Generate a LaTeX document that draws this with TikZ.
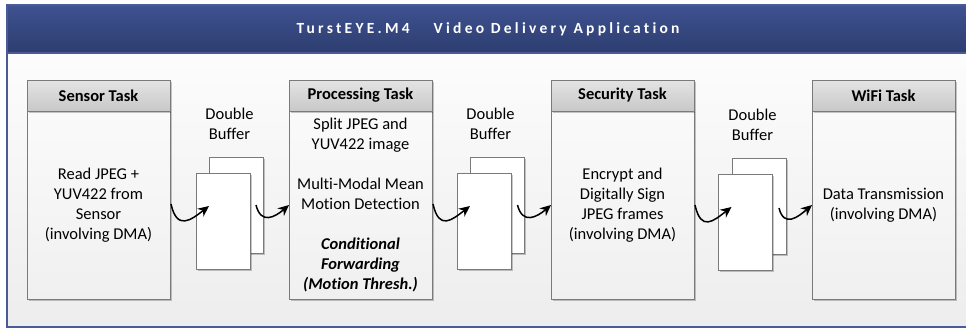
\documentclass[tikz,border=0pt]{standalone}
\usepackage{fontspec}
\setmainfont[Ligatures=NoCommon]{Carlito}
\usetikzlibrary{shadows,calc,arrows.meta}
\definecolor{hdrtop}{HTML}{3F5291}
\definecolor{hdrbot}{HTML}{2D3D6F}
\definecolor{framec}{HTML}{4B5B98}
\definecolor{boxline}{HTML}{7A7A7A}
\definecolor{taskhtop}{HTML}{E4E4E4}
\definecolor{taskhbot}{HTML}{C8C8C8}
\definecolor{bodytop}{HTML}{FAFAFA}
\definecolor{bodybot}{HTML}{F0F0F0}
\definecolor{bgtop}{HTML}{FFFFFF}
\definecolor{bgbot}{HTML}{EDEDED}
\begin{document}
\begin{tikzpicture}[x=1pt,y=-1pt,
  bodyfont/.style={font=\fontsize{16.5}{20}\selectfont},
  shad/.style={drop shadow={shadow xshift=1.5pt,shadow yshift=-1.5pt,fill=black,opacity=0.22}},
  taskhead/.style={draw=boxline,line width=0.8pt,top color=taskhtop,bottom color=taskhbot,
    minimum width=143pt,minimum height=31pt,inner sep=0pt,outer sep=0pt,anchor=north west,
    font=\bfseries\fontsize{16.5}{20}\selectfont,shad},
  taskbody/.style={draw=boxline,line width=0.8pt,top color=bodytop,bottom color=bodybot,
    minimum width=143pt,minimum height=188pt,inner sep=0pt,outer sep=0pt,anchor=north west,
    align=center,bodyfont,shad},
  bufrect/.style={draw=boxline,line width=0.8pt,fill=white,minimum width=54pt,minimum height=96pt,
    inner sep=0pt,outer sep=0pt,shad},
  buflabel/.style={align=center,bodyfont,inner sep=0pt},
  flow/.style={line width=1.5pt,-{Stealth[length=11pt,width=10pt]}}
]
\useasboundingbox (0,0) rectangle (966,329);
% frame
\node[draw=framec,line width=1.3pt,top color=bgtop,bottom color=bgbot,anchor=north west,
  minimum width=962pt,minimum height=322pt,inner sep=0pt,outer sep=0pt] (frame) at (7,5) {};
\node[top color=hdrtop,bottom color=hdrbot,draw=framec,line width=1.3pt,anchor=north west,
  minimum width=962pt,minimum height=48pt,inner sep=0pt,outer sep=0pt,text=white,
  font=\bfseries\fontsize{15.5}{18}\selectfont\addfontfeatures{LetterSpace=21,Ligatures=NoCommon}] (hdr) at (7,5)
  {TurstEYE.M4\hspace{24pt}Video Delivery Application};
% tasks
\node[taskbody] (sensor) at (27,111) {Read JPEG +\\YUV422 from\\Sensor\\(involving DMA)};
\node[taskhead] (sensorH) at (27,80) {Sensor Task};
\node[taskbody] (proc) at (289,111) {Split JPEG and\\YUV422 image\\[20pt]Multi-Modal Mean\\Motion Detection\\[20pt]\textbf{\textit{Conditional}}\\\textbf{\textit{Forwarding}}\\\textbf{\textit{(Motion Thresh.)}}};
\node[taskhead] (procH) at (289,80) {Processing Task};
\node[taskbody] (sec) at (551,111) {Encrypt and\\Digitally Sign\\JPEG frames\\(involving DMA)};
\node[taskhead] (secH) at (551,80) {Security Task};
\node[taskbody] (wifi) at (812,111) {Data Transmission\\(involving DMA)};
\node[taskhead] (wifiH) at (812,80) {WiFi Task};
% buffers
\node[bufrect] (b1b) at (236,205) {};
\node[bufrect] (b1f) at (223,221) {};
\node[buflabel] (b1l) at (229.5,124) {Double\\Buffer};
\node[bufrect] (b2b) at (497.5,205) {};
\node[bufrect] (b2f) at (484,221) {};
\node[buflabel] (b2l) at (490.5,124) {Double\\Buffer};
\node[bufrect] (b3b) at (759,206) {};
\node[bufrect] (b3f) at (745.5,222) {};
\node[buflabel] (b3l) at (752.5,125) {Double\\Buffer};
% arrow end points
\coordinate (s1) at ($(sensor.east)+(1,-1)$);
\coordinate (t1) at ($(b1f.west)+(13,-15)$);
\coordinate (s2) at ($(b1b.east)+(-7,0)$);
\coordinate (t2) at ($(proc.west)+(0,0)$);
\coordinate (s3) at ($(proc.east)+(1,-1)$);
\coordinate (t3) at ($(b2f.west)+(13,-15)$);
\coordinate (s4) at ($(b2b.east)+(-7,0)$);
\coordinate (t4) at ($(sec.west)+(0,0)$);
\coordinate (s5) at ($(sec.east)+(1,0)$);
\coordinate (t5) at ($(b3f.west)+(13,-15)$);
\coordinate (s6) at ($(b3b.east)+(-7,2)$);
\coordinate (t6) at ($(wifi.west)+(0,0)$);
% arrows
\draw[flow] (s1) .. controls +(6,27) and +(-18,14) .. (t1);
\draw[flow] (s2) .. controls +(5,20) and +(-14,12) .. (t2);
\draw[flow] (s3) .. controls +(6,27) and +(-18,14) .. (t3);
\draw[flow] (s4) .. controls +(5,20) and +(-14,12) .. (t4);
\draw[flow] (s5) .. controls +(6,27) and +(-18,14) .. (t5);
\draw[flow] (s6) .. controls +(5,20) and +(-14,12) .. (t6);
\end{tikzpicture}
\end{document}
